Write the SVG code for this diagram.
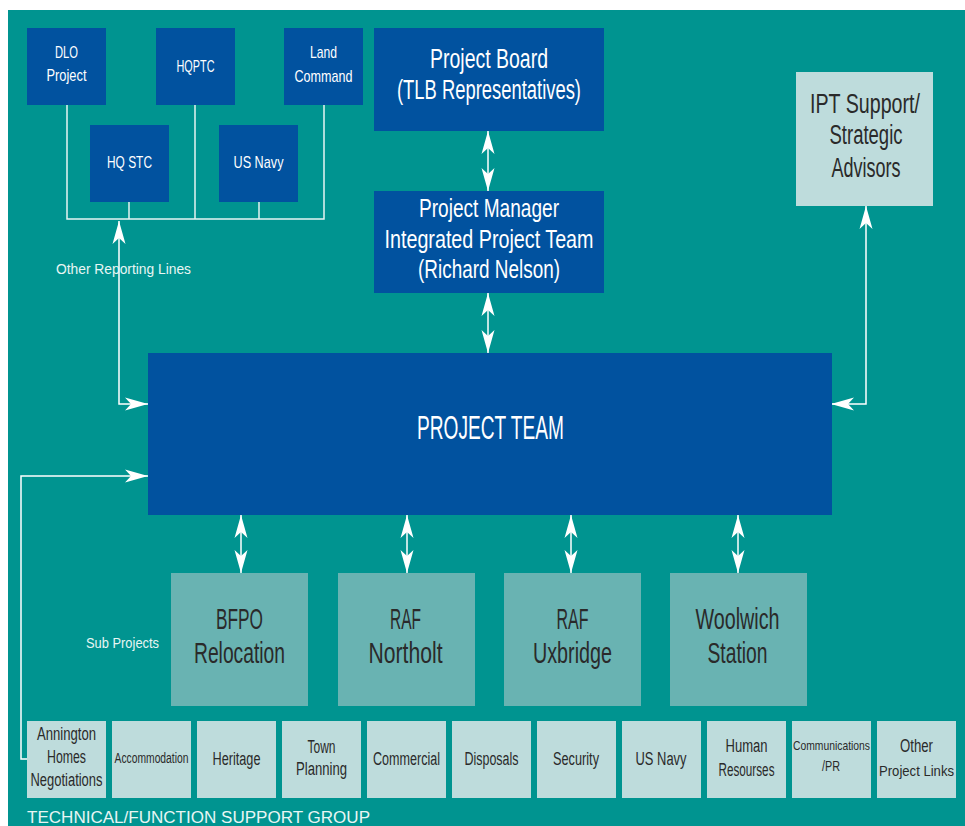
<svg xmlns="http://www.w3.org/2000/svg" width="965" height="826" viewBox="0 0 965 826">
<defs>
<marker id="ah" markerUnits="userSpaceOnUse" markerWidth="26" markerHeight="16" viewBox="-24 -8 26 16" refX="0" refY="0" orient="auto-start-reverse">
<path d="M0,0 L-23,-6.5 L-17,0 L-23,6.5 Z" fill="#ffffff"/>
</marker>
<style>
.dk{fill:#01529f}
.lt{fill:#bedcdc}
.md{fill:#69b3b2}
.w{fill:#ffffff;font-family:"Liberation Sans",Arial,sans-serif;text-anchor:middle}
.b{fill:#2a2a2a;font-family:"Liberation Sans",Arial,sans-serif;text-anchor:middle}
.lab{fill:#e8f6f4;font-family:"Liberation Sans",Arial,sans-serif}
.ln{fill:none;stroke:#e6f3f2;stroke-width:1.5}
.ar{fill:none;stroke:#ffffff;stroke-width:1.5;marker-end:url(#ah)}
.ar2{fill:none;stroke:#ffffff;stroke-width:1.5;marker-start:url(#ah);marker-end:url(#ah)}
</style>
</defs>
<rect x="0" y="0" width="965" height="826" fill="#ffffff"/>
<rect x="8" y="10" width="957" height="816" fill="#009490"/>

<g id="connectors">
<polyline class="ln" points="67,105 67,219 324,219 324,105"/>
<line class="ln" x1="129" y1="202" x2="129" y2="219"/>
<line class="ln" x1="195" y1="105" x2="195" y2="219"/>
<line class="ln" x1="259" y1="202" x2="259" y2="219"/>
<polyline class="ar2" points="119,221 119,404 148,404"/>
<line class="ar2" x1="488" y1="131" x2="488" y2="191"/>
<line class="ar2" x1="488" y1="293" x2="488" y2="353"/>
<polyline class="ar2" points="866,206 866,404 831,404"/>
<polyline class="ar" points="27,759 21,759 21,476 148,476"/>
<line class="ar2" x1="241" y1="515" x2="241" y2="573"/>
<line class="ar2" x1="407" y1="515" x2="407" y2="573"/>
<line class="ar2" x1="571" y1="515" x2="571" y2="573"/>
<line class="ar2" x1="738" y1="515" x2="738" y2="573"/>
</g>

<g id="dlo"><rect class="dk" x="27" y="28" width="79" height="77"/>
<text class="w" font-size="17" x="66.5" y="58" textLength="23" lengthAdjust="spacingAndGlyphs">DLO</text>
<text class="w" font-size="17" x="66.5" y="81" textLength="40" lengthAdjust="spacingAndGlyphs">Project</text></g>
<g id="hqptc"><rect class="dk" x="156" y="28" width="79" height="77"/>
<text class="w" font-size="17" x="195.5" y="72" textLength="38" lengthAdjust="spacingAndGlyphs">HQPTC</text></g>
<g id="land"><rect class="dk" x="284" y="28" width="79" height="77"/>
<text class="w" font-size="17" x="323.5" y="58" textLength="27" lengthAdjust="spacingAndGlyphs">Land</text>
<text class="w" font-size="17" x="323.5" y="82" textLength="58" lengthAdjust="spacingAndGlyphs">Command</text></g>
<g id="hqstc"><rect class="dk" x="90" y="125" width="79" height="77"/>
<text class="w" font-size="17" x="129.5" y="168" textLength="45" lengthAdjust="spacingAndGlyphs">HQ STC</text></g>
<g id="usnavy-top"><rect class="dk" x="219" y="125" width="79" height="77"/>
<text class="w" font-size="17" x="258.5" y="168" textLength="50" lengthAdjust="spacingAndGlyphs">US Navy</text></g>

<text class="lab" font-size="15" x="56" y="274" textLength="135" lengthAdjust="spacingAndGlyphs">Other Reporting Lines</text>

<g id="board"><rect class="dk" x="374" y="28" width="230" height="103"/>
<text class="w" font-size="27" x="489" y="68" textLength="118" lengthAdjust="spacingAndGlyphs">Project Board</text>
<text class="w" font-size="27" x="489" y="99" textLength="184" lengthAdjust="spacingAndGlyphs">(TLB Representatives)</text></g>

<g id="pm"><rect class="dk" x="374" y="191" width="230" height="102"/>
<text class="w" font-size="26" x="489" y="217" textLength="140" lengthAdjust="spacingAndGlyphs">Project Manager</text>
<text class="w" font-size="26" x="489" y="248" textLength="209" lengthAdjust="spacingAndGlyphs">Integrated Project Team</text>
<text class="w" font-size="26" x="489" y="278" textLength="142" lengthAdjust="spacingAndGlyphs">(Richard Nelson)</text></g>

<g id="ipt"><rect class="lt" x="796" y="72" width="137" height="134"/>
<text class="b" font-size="27" x="865" y="113" textLength="110" lengthAdjust="spacingAndGlyphs">IPT Support/</text>
<text class="b" font-size="27" x="866" y="144" textLength="73" lengthAdjust="spacingAndGlyphs">Strategic</text>
<text class="b" font-size="27" x="866" y="177" textLength="69" lengthAdjust="spacingAndGlyphs">Advisors</text></g>

<g id="team"><rect class="dk" x="148" y="353" width="684" height="162"/>
<text class="w" font-size="34" x="490.5" y="439" textLength="147" lengthAdjust="spacingAndGlyphs">PROJECT TEAM</text></g>

<text class="lab" font-size="15" x="86" y="648" textLength="73" lengthAdjust="spacingAndGlyphs">Sub Projects</text>

<g id="bfpo"><rect class="md" x="171" y="573" width="137" height="133"/>
<text class="b" font-size="29" x="239.5" y="629" textLength="47" lengthAdjust="spacingAndGlyphs">BFPO</text>
<text class="b" font-size="29" x="239.5" y="663" textLength="91" lengthAdjust="spacingAndGlyphs">Relocation</text></g>
<g id="northolt"><rect class="md" x="338" y="573" width="137" height="133"/>
<text class="b" font-size="29" x="405.5" y="629" textLength="31" lengthAdjust="spacingAndGlyphs">RAF</text>
<text class="b" font-size="29" x="405.5" y="663" textLength="74" lengthAdjust="spacingAndGlyphs">Northolt</text></g>
<g id="uxbridge"><rect class="md" x="504" y="573" width="137" height="133"/>
<text class="b" font-size="29" x="572.5" y="629" textLength="32" lengthAdjust="spacingAndGlyphs">RAF</text>
<text class="b" font-size="29" x="572.5" y="663" textLength="79" lengthAdjust="spacingAndGlyphs">Uxbridge</text></g>
<g id="woolwich"><rect class="md" x="670" y="573" width="137" height="133"/>
<text class="b" font-size="29" x="737.5" y="629" textLength="84" lengthAdjust="spacingAndGlyphs">Woolwich</text>
<text class="b" font-size="29" x="737.5" y="663" textLength="60" lengthAdjust="spacingAndGlyphs">Station</text></g>

<g id="annington"><rect class="lt" x="27" y="721" width="79" height="77"/>
<text class="b" font-size="18" x="66.5" y="740" textLength="59" lengthAdjust="spacingAndGlyphs">Annington</text>
<text class="b" font-size="18" x="66.5" y="763" textLength="39" lengthAdjust="spacingAndGlyphs">Homes</text>
<text class="b" font-size="18" x="66.5" y="786" textLength="72" lengthAdjust="spacingAndGlyphs">Negotiations</text></g>
<g id="accommodation"><rect class="lt" x="112" y="721" width="79" height="77"/>
<text class="b" font-size="14" x="151.5" y="763" textLength="74" lengthAdjust="spacingAndGlyphs">Accommodation</text></g>
<g id="heritage"><rect class="lt" x="197" y="721" width="79" height="77"/>
<text class="b" font-size="18" x="236.5" y="765" textLength="48" lengthAdjust="spacingAndGlyphs">Heritage</text></g>
<g id="town"><rect class="lt" x="282" y="721" width="79" height="77"/>
<text class="b" font-size="18" x="321.5" y="753" textLength="28" lengthAdjust="spacingAndGlyphs">Town</text>
<text class="b" font-size="18" x="321.5" y="775" textLength="51" lengthAdjust="spacingAndGlyphs">Planning</text></g>
<g id="commercial"><rect class="lt" x="367" y="721" width="79" height="77"/>
<text class="b" font-size="18" x="406.5" y="765" textLength="67" lengthAdjust="spacingAndGlyphs">Commercial</text></g>
<g id="disposals"><rect class="lt" x="452" y="721" width="79" height="77"/>
<text class="b" font-size="18" x="491.5" y="765" textLength="54" lengthAdjust="spacingAndGlyphs">Disposals</text></g>
<g id="security"><rect class="lt" x="537" y="721" width="79" height="77"/>
<text class="b" font-size="18" x="576" y="765" textLength="46" lengthAdjust="spacingAndGlyphs">Security</text></g>
<g id="usnavy"><rect class="lt" x="622" y="721" width="79" height="77"/>
<text class="b" font-size="18" x="661" y="765" textLength="51" lengthAdjust="spacingAndGlyphs">US Navy</text></g>
<g id="human"><rect class="lt" x="707" y="721" width="79" height="77"/>
<text class="b" font-size="18" x="746.5" y="752" textLength="42" lengthAdjust="spacingAndGlyphs">Human</text>
<text class="b" font-size="18" x="746.5" y="776" textLength="56" lengthAdjust="spacingAndGlyphs">Resourses</text></g>
<g id="comms"><rect class="lt" x="792" y="721" width="79" height="77"/>
<text class="b" font-size="13" x="831.5" y="750" textLength="77" lengthAdjust="spacingAndGlyphs">Communications</text>
<text class="b" font-size="14" x="831" y="771" textLength="18" lengthAdjust="spacingAndGlyphs">/PR</text></g>
<g id="other"><rect class="lt" x="877" y="721" width="79" height="77"/>
<text class="b" font-size="18" x="916.5" y="752" textLength="33" lengthAdjust="spacingAndGlyphs">Other</text>
<text class="b" font-size="15" x="916.5" y="776" textLength="75" lengthAdjust="spacingAndGlyphs">Project Links</text></g>

<text class="lab" font-size="16" x="27" y="823" textLength="343" lengthAdjust="spacingAndGlyphs">TECHNICAL/FUNCTION SUPPORT GROUP</text>
</svg>
